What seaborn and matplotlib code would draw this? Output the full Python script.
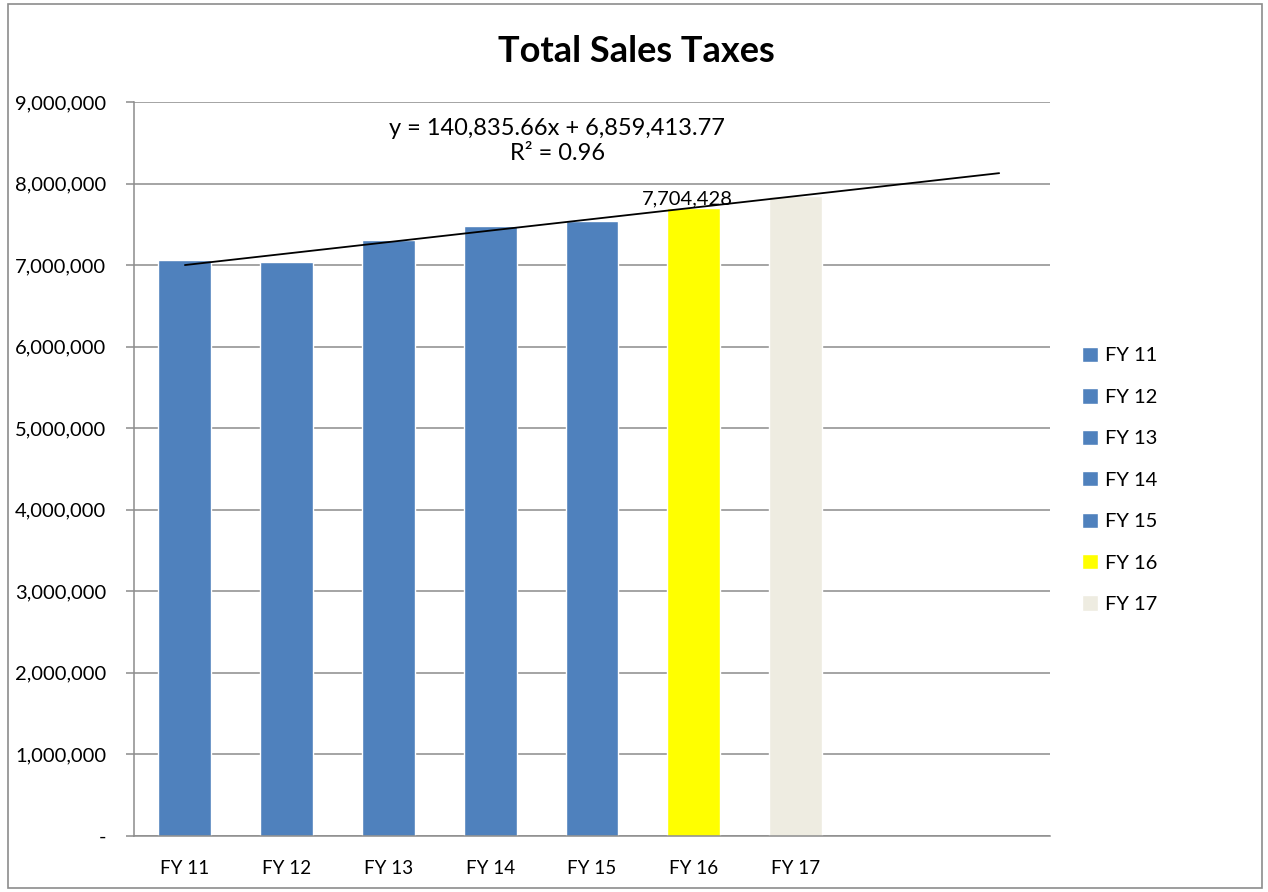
import numpy as np
import pandas as pd
import matplotlib.pyplot as plt
import seaborn as sns
from matplotlib.patches import Rectangle, Patch
from matplotlib.ticker import FuncFormatter

# values
years = ["FY 11", "FY 12", "FY 13", "FY 14", "FY 15", "FY 16", "FY 17"]
taxes = [7058000, 7033000, 7306000, 7481000, 7539000, 7704428, 7848000]
colors = ["#4f81bd"] * 5 + ["#ffff00", "#eeece1"]
slots = years + ["", " "]  # two empty category slots for the forecast

# trendline from Excel's label
slope = 140835.66
intercept = 6859413.77
r2 = 0.96

df = pd.DataFrame({"year": years, "tax": taxes})

sns.set_style("white")
plt.rcParams["font.family"] = ["Lato", "DejaVu Sans"]
plt.rcParams["text.color"] = "black"

fig = plt.figure(figsize=(12.68, 8.92), dpi=100)
ax = fig.add_axes([0.1057, 0.0628, 0.7224, 0.8229])

sns.barplot(data=df, x="year", y="tax", hue="year", order=slots,
            hue_order=years, palette=dict(zip(years, colors)),
            width=0.52, legend=False, ax=ax, saturation=1)

# linear trend, forecast 2 periods forward
tx = np.arange(1, len(slots) + 1)
ax.plot(tx - 1, slope * tx + intercept, color="black", lw=1.3, zorder=5)

ax.text(0.462, 0.978, f"y = {slope:,.2f}x + {intercept:,.2f}\nR² = {r2}",
        transform=ax.transAxes, ha="center", va="top", fontsize=17,
        linespacing=1.25)

i16 = years.index("FY 16")
ax.text(i16 - 0.06, taxes[i16] + 8000, f"{taxes[i16]:,}", ha="center",
        va="bottom", fontsize=14.5, zorder=6)

ax.set_ylim(0, 9000000)
ax.set_xlim(-0.5, len(slots) - 0.5)
ax.set_yticks(np.arange(0, 9000001, 1000000))
ax.yaxis.set_major_formatter(FuncFormatter(lambda v, p: "-" if v == 0 else f"{v:,.0f}"))
ax.grid(axis="y", color="#8c8c8c", lw=1.1)
ax.set_axisbelow(True)

ax.set_xticks(range(len(slots)))
ax.set_xticklabels(slots)
ax.set_xticks(np.arange(-0.5, len(slots), 1), minor=True)
ax.tick_params(axis="x", which="major", length=0, pad=17, labelsize=13.5, labelcolor="black")
ax.tick_params(axis="x", which="minor", length=6, width=1.1, color="#8c8c8c", direction="out")
ax.tick_params(axis="y", length=6, width=1.1, color="#8c8c8c", pad=14, labelsize=14.5,
               left=True, labelcolor="black")

ax.set_xlabel("")
ax.set_ylabel("")
for s in ["top", "right"]:
    ax.spines[s].set_visible(False)
for s in ["left", "bottom"]:
    ax.spines[s].set_color("#8c8c8c")
    ax.spines[s].set_linewidth(1.1)

handles = [Patch(facecolor=c, label=y) for y, c in zip(years, colors)]
fig.legend(handles=handles, loc="center left", bbox_to_anchor=(0.839, 0.462),
           frameon=False, fontsize=14.5, handlelength=0.8, handleheight=0.8,
           handletextpad=0.35, labelspacing=1.18)

fig.text(0.502, 0.942, "Total Sales Taxes", ha="center", va="center",
         fontsize=26, fontweight="bold", color="black")

fig.patches.append(Rectangle((0.006, 0.005), 0.989, 0.99, transform=fig.transFigure,
                             fill=False, edgecolor="#8c8c8c", lw=1.2))

fig.savefig("out.png", dpi=100)
